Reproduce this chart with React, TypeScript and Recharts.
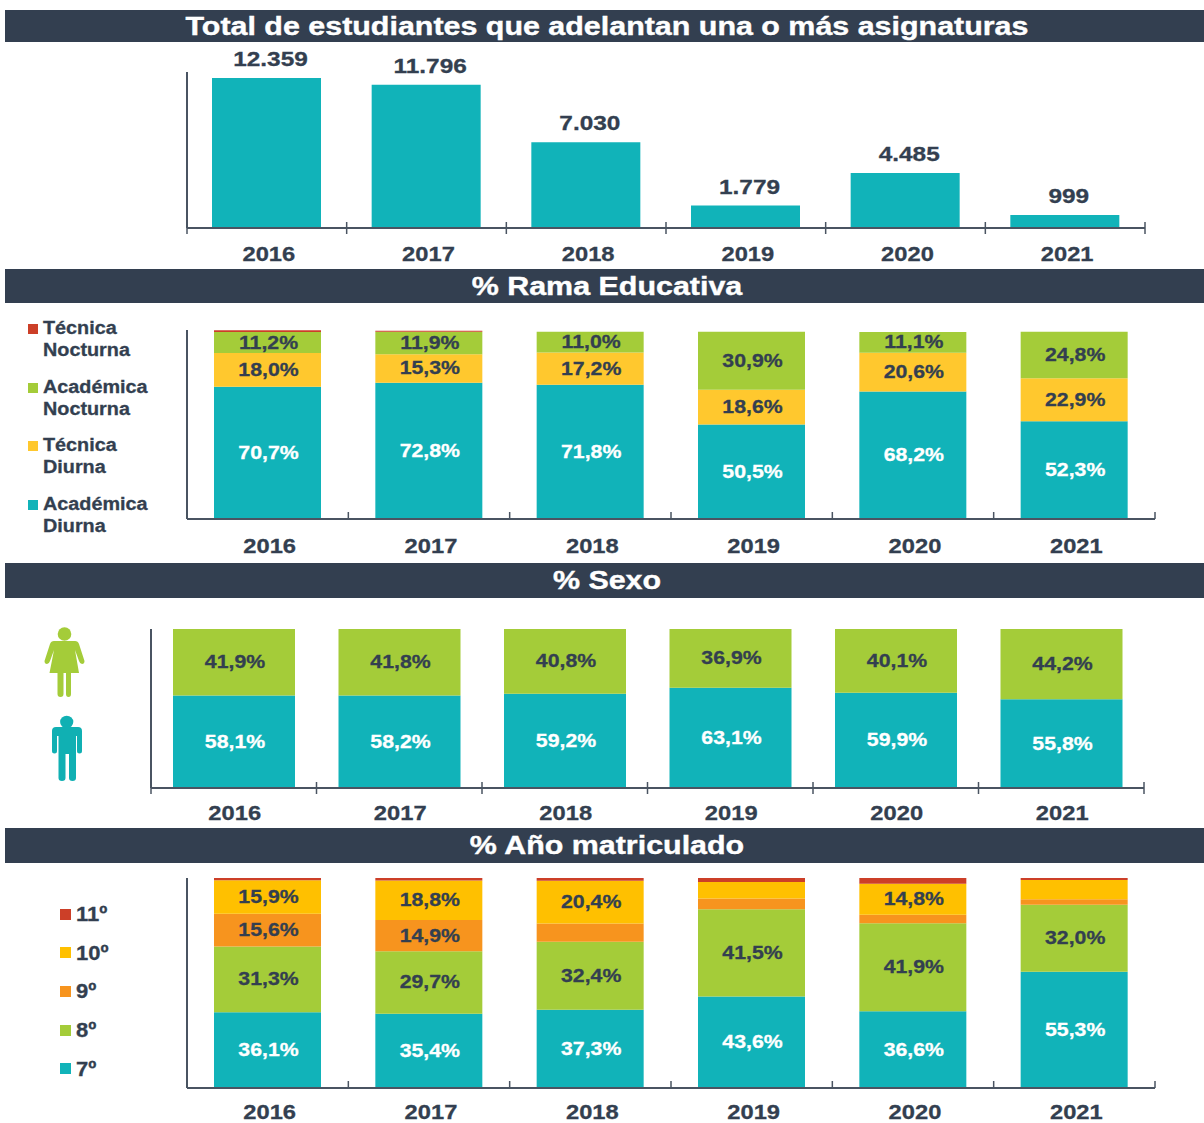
import React from "react";
import { BarChart, Bar, XAxis, YAxis, LabelList } from "recharts";

const years = ["2016", "2017", "2018", "2019", "2020", "2021"];

const totals = [12359, 11796, 7030, 1779, 4485, 999];

const ramaNames = ["Académica Diurna", "Técnica Diurna", "Académica Nocturna", "Técnica Nocturna"];
const academicaDiurna = [70.7, 72.8, 71.8, 50.5, 68.2, 52.3];
const tecnicaDiurna = [18.0, 15.3, 17.2, 18.6, 20.6, 22.9];
const academicaNocturna = [11.2, 11.9, 11.0, 30.9, 11.1, 24.8];
const tecnicaNocturna = [0.9, 0.6, 0, 0, 0, 0];

const hombres = [58.1, 58.2, 59.2, 63.1, 59.9, 55.8];
const mujeres = [41.9, 41.8, 40.8, 36.9, 40.1, 44.2];

const gradoNames = ["7º", "8º", "9º", "10º", "11º"];
const grado7 = [36.1, 35.4, 37.3, 43.6, 36.6, 55.3];
const grado8 = [31.3, 29.7, 32.4, 41.5, 41.9, 32.0];
const grado9 = [15.6, 14.9, 8.6, 5.1, 4.0, 2.6];
const grado10 = [15.9, 18.8, 20.4, 7.9, 14.8, 9.2];
const grado11 = [1.1, 1.2, 1.3, 1.9, 2.7, 0.9];

const DARK = "#333f50";
const AXIS = "#4a5462";
const TEAL = "#11b3b9";
const GREEN = "#a4cc39";
const RED = "#cc3f28";
const FONT = "'Liberation Sans', Arial, sans-serif";

const ramaColors = [TEAL, "#ffc82e", GREEN, RED];
const ramaLabelColors = ["#fff", DARK, DARK, DARK];
const sexoColors = [TEAL, GREEN];
const sexoLabelColors = ["#fff", DARK];
const gradoColors = [TEAL, GREEN, "#f7941e", "#ffc000", RED];
const gradoLabelColors = ["#fff", DARK, DARK, DARK, DARK];

const toTable = (columns: number[][]) =>
  years.map((year, i) => {
    const row: Record<string, string | number> = { year };
    columns.forEach((col, c) => (row["s" + c] = col[i]));
    return row;
  });

const thousands = (v: number) => String(v).replace(/\B(?=(\d{3})+$)/g, ".");
const percent = (v: number) => v.toFixed(1).replace(".", ",") + "%";

// the source picture is stretched sideways, so the text is too
function WideText({ x, y, size, fill, k = 1.12, children }: any) {
  return (
    <text
      transform={`translate(${x} ${y}) scale(${k} 1)`}
      textAnchor="middle"
      fontFamily={FONT}
      fontWeight="bold"
      fontSize={size}
      fill={fill}
      stroke={fill}
      strokeWidth={0.3}
    >
      {children}
    </text>
  );
}

function Band({ top, height, children }: any) {
  return (
    <div style={{ position: "absolute", left: 5, top, width: 1199, height, background: DARK }}>
      <div
        style={{
          position: "absolute",
          left: -5,
          width: 1214,
          top: 0,
          lineHeight: height + "px",
          textAlign: "center",
          color: "#fff",
          fontFamily: FONT,
          fontWeight: "bold",
          fontSize: 26,
          whiteSpace: "nowrap",
          transform: "scaleX(1.17)",
          WebkitTextStroke: "0.4px #fff",
        }}
      >
        {children}
      </div>
    </div>
  );
}

function Chart({
  top,
  plotTop,
  plotHeight,
  left,
  right,
  barSize,
  domain,
  table,
  colors,
  labelColors,
  format,
  minLabel = 0,
  labelOffset = 0,
  aboveBar = false,
  tickUp,
  tickDown,
  yearOffset,
  yearDx = 2,
}: any) {
  const keys = colors.map((_: string, i: number) => "s" + i);
  const step = (right - left) / table.length;

  // year label plus the little marks between the categories
  const renderTick = (p: any) => {
    const edge = p.x - step / 2;
    const last = p.index === table.length - 1;
    return (
      <g>
        <line x1={edge} x2={edge} y1={p.y - tickUp} y2={p.y + tickDown} stroke={AXIS} strokeWidth={1.5} />
        {last && (
          <line x1={edge + step} x2={edge + step} y1={p.y - tickUp} y2={p.y + tickDown} stroke={AXIS} strokeWidth={1.5} />
        )}
        <WideText x={p.x + yearDx} y={p.y + yearOffset} size={21} fill={DARK} k={1.13}>
          {p.payload.value}
        </WideText>
      </g>
    );
  };

  return (
    <div style={{ position: "absolute", left: 0, top }}>
      <BarChart
        width={1204}
        height={plotTop + plotHeight + 40}
        data={table}
        barSize={barSize}
        margin={{ top: plotTop, right: 1204 - right, bottom: 0, left: left - 1 }}
      >
        <XAxis
          dataKey="year"
          height={40}
          interval={0}
          stroke={AXIS}
          strokeWidth={2}
          tickLine={false}
          tickSize={0}
          tickMargin={0}
          tick={renderTick}
        />
        <YAxis width={1} domain={domain} tick={false} tickLine={false} stroke={AXIS} strokeWidth={2} />
        {keys.map((key: string, i: number) => (
          <Bar key={key} dataKey={key} stackId="a" fill={colors[i]} isAnimationActive={false}>
            <LabelList
              dataKey={key}
              content={(p: any) => {
                if (!p.value || p.value < minLabel) return null;
                if (aboveBar) {
                  return (
                    <WideText x={p.x + p.width / 2 + labelOffset} y={p.y - 12} size={20} fill={labelColors[i]} k={1.22}>
                      {format(p.value)}
                    </WideText>
                  );
                }
                return (
                  <WideText x={p.x + p.width / 2 + 1} y={p.y + p.height / 2 + 6} size={19} fill={labelColors[i]}>
                    {format(p.value)}
                  </WideText>
                );
              }}
            />
          </Bar>
        ))}
      </BarChart>
    </div>
  );
}

function LegendKey({ x, y, size, color, lines, fontSize, textX, lineHeight, textDy = 0 }: any) {
  return (
    <>
      <div style={{ position: "absolute", left: x, top: y - size / 2, width: size, height: size, background: color }} />
      {lines.map((line: string, i: number) => (
        <div
          key={i}
          style={{
            position: "absolute",
            left: textX,
            top: y + textDy - lineHeight / 2 + i * lineHeight,
            lineHeight: lineHeight + "px",
            fontFamily: FONT,
            fontWeight: "bold",
            fontSize,
            color: DARK,
            whiteSpace: "nowrap",
            transform: "scaleX(1.1)",
            transformOrigin: "left center",
            WebkitTextStroke: "0.3px " + DARK,
          }}
        >
          {line}
        </div>
      ))}
    </>
  );
}

function WomanIcon() {
  return (
    <svg style={{ position: "absolute", left: 40, top: 625 }} width={50} height={76} viewBox="0 0 50 76" fill={GREEN}>
      <circle cx={24.5} cy={9} r={6.8} />
      <path d="M14 16 H35 Q38 16 39 19 L44.5 36 Q44.5 39 42 39 Q40 39 39 36 L35 25 L39 48 H31 V69 Q31 72 28.5 72 Q26 72 26 69 V48 H23.5 V69 Q23.5 72 20.5 72 Q17.5 72 17.5 69 V48 H9.5 L14 25 L10 36 Q9 39 7 39 Q4.5 39 4.5 36 L10 19 Q11 16 14 16 Z" />
    </svg>
  );
}

function ManIcon() {
  return (
    <svg style={{ position: "absolute", left: 45, top: 712 }} width={44} height={72} viewBox="0 0 44 72" fill="#10b0b3">
      <ellipse cx={21.7} cy={10} rx={6.6} ry={6.2} />
      <path d="M11 15 H33 Q37 15 37 19 V39 Q37 41.5 34.5 41.5 Q32 41.5 32 39 V24 H31 V66 Q31 69 27.5 69 Q24 69 24 66 V42 H20.5 V66 Q20.5 69 17 69 Q13.5 69 13.5 66 V24 H12 V39 Q12 41.5 9.5 41.5 Q7 41.5 7 39 V19 Q7 15 11 15 Z" />
    </svg>
  );
}

export default function App() {
  const ramaLegend = [...ramaNames].reverse();
  const ramaLegendColors = [...ramaColors].reverse();
  const gradoLegend = [...gradoNames].reverse();
  const gradoLegendColors = [...gradoColors].reverse();

  return (
    <div style={{ position: "absolute", left: 0, top: 0, width: 1204, height: 1123, background: "#fff", overflow: "hidden" }}>
      <Band top={10} height={32}>Total de estudiantes que adelantan una o más asignaturas</Band>
      <Band top={269} height={34}>% Rama Educativa</Band>
      <Band top={563} height={35}>% Sexo</Band>
      <Band top={828} height={35}>% Año matriculado</Band>

      <Chart
        top={42}
        plotTop={30}
        plotHeight={156}
        left={187}
        right={1145}
        barSize={109}
        domain={[-83, 12857]}
        table={toTable([totals])}
        colors={[TEAL]}
        labelColors={[DARK]}
        format={thousands}
        aboveBar
        labelOffset={4}
        tickUp={6}
        tickDown={6}
        yearOffset={33}
      />
      <Chart
        top={310}
        plotTop={20}
        plotHeight={189}
        left={187}
        right={1155}
        barSize={107}
        domain={[0, 101]}
        table={toTable([academicaDiurna, tecnicaDiurna, academicaNocturna, tecnicaNocturna])}
        colors={ramaColors}
        labelColors={ramaLabelColors}
        format={percent}
        minLabel={5}
        tickUp={7}
        tickDown={0}
        yearOffset={34}
      />
      <Chart
        top={608}
        plotTop={21}
        plotHeight={159}
        left={151}
        right={1144}
        barSize={122}
        domain={[0, 100]}
        table={toTable([hombres, mujeres])}
        colors={sexoColors}
        labelColors={sexoLabelColors}
        format={percent}
        tickUp={6}
        tickDown={6}
        yearOffset={31.5}
        yearDx={1}
      />
      <Chart
        top={858}
        plotTop={20}
        plotHeight={210}
        left={187}
        right={1155}
        barSize={107}
        domain={[0, 100]}
        table={toTable([grado7, grado8, grado9, grado10, grado11])}
        colors={gradoColors}
        labelColors={gradoLabelColors}
        format={percent}
        minLabel={10}
        tickUp={7}
        tickDown={0}
        yearOffset={30.5}
      />

      {ramaLegend.map((name, i) => (
        <LegendKey
          key={name}
          x={28}
          y={329 + i * 58.5}
          size={10}
          color={ramaLegendColors[i]}
          lines={name.split(" ")}
          textX={43}
          textDy={-1}
          fontSize={18}
          lineHeight={22}
        />
      ))}
      {gradoLegend.map((name, i) => (
        <LegendKey
          key={name}
          x={60}
          y={914 + i * 38.7}
          size={11}
          color={gradoLegendColors[i]}
          lines={[name]}
          textX={76}
          fontSize={20}
          lineHeight={22}
        />
      ))}

      <WomanIcon />
      <ManIcon />
    </div>
  );
}
